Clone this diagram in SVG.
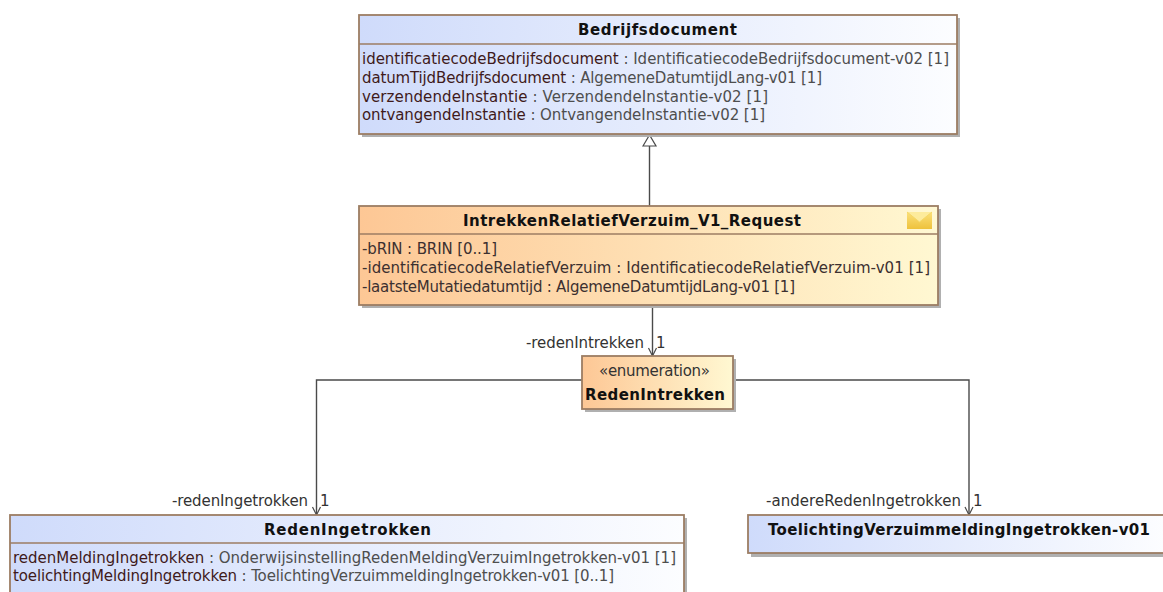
<svg xmlns="http://www.w3.org/2000/svg" width="1163" height="592" viewBox="0 0 1163 592">
<style>
text{font-family:"DejaVu Sans","Liberation Sans",sans-serif;font-size:15px;fill:#4e4e4e}
.t{font-weight:bold;fill:#111}
.l{fill:#333}
.n{fill:#3f1a1a}
.o{fill:#3c3030}
.box{stroke:#9c7d63;stroke-width:1.8}
.sh{fill:#b0b0b0}
.c{fill:none;stroke:#4a4a4a;stroke-width:1.4}
.sep{stroke:#9c7d63;stroke-width:1.4}
</style>
<defs>
<linearGradient id="blue"><stop offset="0" stop-color="#cfdbfb"/><stop offset="1" stop-color="#fcfdff"/></linearGradient>
<linearGradient id="org"><stop offset="0" stop-color="#fdc795"/><stop offset="1" stop-color="#fff8d2"/></linearGradient>
<linearGradient id="env" x1="0" y1="0" x2="0" y2="1"><stop offset="0" stop-color="#fbe07a"/><stop offset="1" stop-color="#eec23c"/></linearGradient>
<marker id="open" markerWidth="12" markerHeight="12" refX="9" refY="5" orient="auto" markerUnits="userSpaceOnUse"><path d="M1 1L9 5L1 9" fill="none" stroke="#4a4a4a" stroke-width="1.2"/></marker>
</defs>
<g id="connectors">
<path class="c" d="M649.500 206V146"/>
<path d="M643 146L649.500 135L656 146Z" fill="#fff" stroke="#4a4a4a" stroke-width="1.2"/>
<path class="c" d="M652.500 305V356" marker-end="url(#open)"/>
<path class="c" d="M582 380H316.500V515" marker-end="url(#open)"/>
<path class="c" d="M733 380H969V515" marker-end="url(#open)"/>
<text class="l" x="526" y="348" textLength="118">-redenIntrekken</text>
<text class="l" x="656" y="348">1</text>
<text class="l" x="172" y="506" textLength="136">-redenIngetrokken</text>
<text class="l" x="320" y="506">1</text>
<text class="l" x="766" y="506" textLength="195">-andereRedenIngetrokken</text>
<text class="l" x="973" y="506">1</text>
</g>
<g id="bedrijfsdocument">
<rect class="sh" x="362" y="18" width="598" height="119"/>
<rect class="box" x="359" y="15" width="598" height="119" fill="url(#blue)"/>
<line class="sep" x1="359" y1="44" x2="957" y2="44"/>
<text class="t" x="578" y="35" textLength="159">Bedrijfsdocument</text>
<text x="362" y="64" textLength="587"><tspan class="n">identificatiecodeBedrijfsdocument</tspan> : IdentificatiecodeBedrijfsdocument-v02 [1]</text>
<text x="362" y="83" textLength="460"><tspan class="n">datumTijdBedrijfsdocument</tspan> : AlgemeneDatumtijdLang-v01 [1]</text>
<text x="362" y="102" textLength="406"><tspan class="n">verzendendeInstantie</tspan> : VerzendendeInstantie-v02 [1]</text>
<text x="362" y="120" textLength="403"><tspan class="n">ontvangendeInstantie</tspan> : OntvangendeInstantie-v02 [1]</text>
</g>
<g id="intrekken">
<rect class="sh" x="362" y="209" width="579" height="99"/>
<rect class="box" x="359" y="206" width="579" height="99" fill="url(#org)"/>
<line class="sep" x1="359" y1="234" x2="938" y2="234"/>
<text class="t" x="463" y="226" textLength="338">IntrekkenRelatiefVerzuim_V1_Request</text>
<rect x="907" y="212" width="25" height="17" fill="url(#env)"/>
<path d="M907 212L919.500 222L932 212" fill="#fdeb9c" stroke="#f5d765" stroke-width="1"/>
<text class="o" x="362" y="254" textLength="135">-bRIN : BRIN [0..1]</text>
<text class="o" x="362" y="273" textLength="568">-identificatiecodeRelatiefVerzuim : IdentificatiecodeRelatiefVerzuim-v01 [1]</text>
<text class="o" x="362" y="292" textLength="433">-laatsteMutatiedatumtijd : AlgemeneDatumtijdLang-v01 [1]</text>
</g>
<g id="redenintrekken">
<rect class="sh" x="585" y="359" width="151" height="53"/>
<rect class="box" x="582" y="356" width="151" height="53" fill="url(#org)"/>
<text class="l" x="599" y="376" textLength="111">«enumeration»</text>
<text class="t" x="585" y="400" textLength="140">RedenIntrekken</text>
</g>
<g id="redeningetrokken">
<rect class="sh" x="13" y="518" width="674" height="80"/>
<rect class="box" x="10" y="515" width="674" height="80" fill="url(#blue)"/>
<line class="sep" x1="10" y1="543" x2="684" y2="543"/>
<text class="t" x="264" y="535" textLength="167">RedenIngetrokken</text>
<text x="13" y="563" textLength="663"><tspan class="n">redenMeldingIngetrokken</tspan> : OnderwijsinstellingRedenMeldingVerzuimIngetrokken-v01 [1]</text>
<text x="13" y="581" textLength="601"><tspan class="n">toelichtingMeldingIngetrokken</tspan> : ToelichtingVerzuimmeldingIngetrokken-v01 [0..1]</text>
</g>
<g id="toelichting">
<rect class="sh" x="751" y="519" width="412" height="38"/>
<rect class="box" x="748" y="515" width="416" height="38" fill="url(#blue)"/>
<text class="t" x="768" y="535" textLength="382">ToelichtingVerzuimmeldingIngetrokken-v01</text>
</g>
</svg>
